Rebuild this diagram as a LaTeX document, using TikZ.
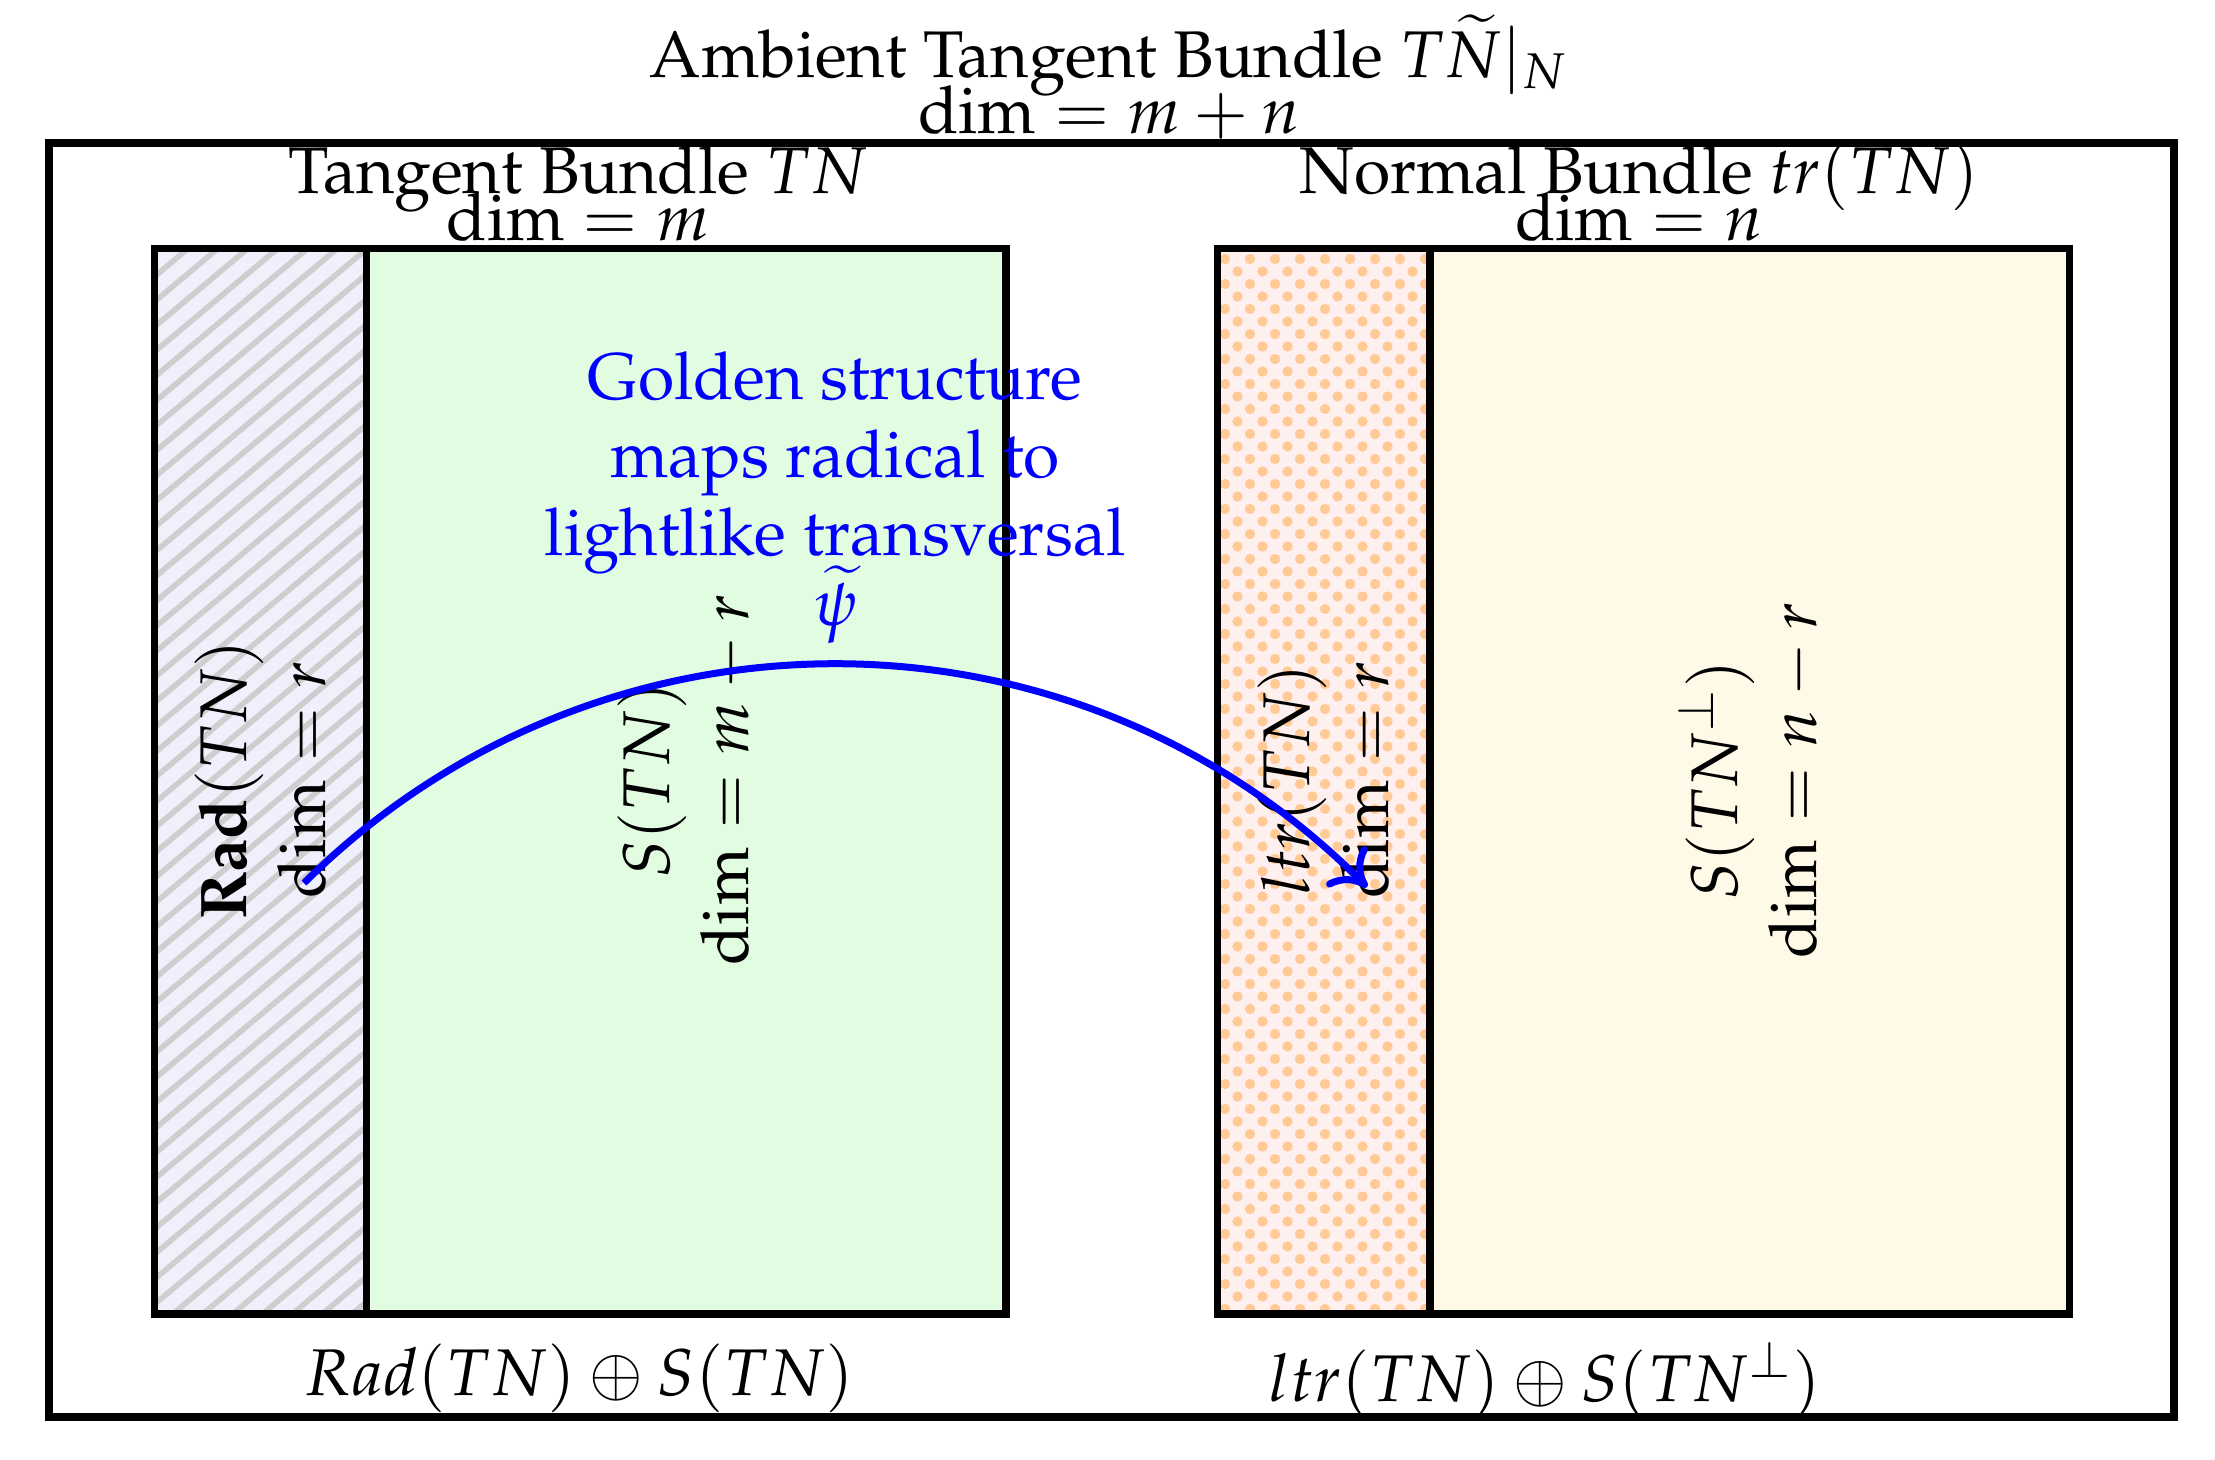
\documentclass[tikz,border=0pt]{standalone}
\usepackage[T1]{fontenc}
\usepackage{mathpazo}
\usetikzlibrary{patterns.meta,arrows.meta}
\definecolor{radfill}{RGB}{240,240,252}
\definecolor{sfill}{RGB}{226,252,226}
\definecolor{ltrfill}{RGB}{255,240,240}
\definecolor{spfill}{RGB}{255,250,232}
\definecolor{dotcol}{RGB}{255,202,150}
\definecolor{hatchcol}{RGB}{206,206,206}
\newcommand{\fsz}[2]{\fontsize{#1}{#2}\selectfont\lineskiplimit=-100pt\lineskip=0pt}
\begin{document}
\begin{tikzpicture}[x=0.25pt,y=-0.25pt,
  box/.style={line width=1.9pt},
  hdr/.style={align=center, inner sep=0pt, anchor=base, font=\fsz{16.5}{14}},
  sub/.style={align=center, inner sep=0pt, anchor=base, font=\fsz{16.5}{11.75}},
  vlbl/.style={align=center, inner sep=0pt, rotate=90, font=\fsz{16.5}{19.75}},
  note/.style={align=center, inner sep=0pt, anchor=base, text=blue, font=\fsz{16.5}{19.5}},
  sumlbl/.style={inner sep=0pt, anchor=base, font=\fsz{16.5}{20}},
  maparrow/.style={-{Computer Modern Rightarrow[length=8pt,width=14pt]}, blue, line width=1.75pt}]
\useasboundingbox (0,0) rectangle (2215,1459);
% fills
\fill[radfill] (154.5,248.5) rectangle (366.5,1314);
\fill[pattern={Lines[angle=40,distance=4.8pt,line width=1.4pt]}, pattern color=hatchcol] (154.5,248.5) rectangle (366.5,1314);
\fill[sfill] (366.5,248.5) rectangle (1006,1314);
\fill[ltrfill] (1217.5,248.5) rectangle (1430,1314);
\fill[pattern={Dots[distance=6.25pt,radius=1.3pt]}, pattern color=dotcol] (1217.5,248.5) rectangle (1430,1314);
\fill[pattern={Dots[distance=6.25pt,radius=1.3pt,xshift=3.125pt,yshift=3.125pt]}, pattern color=dotcol] (1217.5,248.5) rectangle (1430,1314);
\fill[spfill] (1430,248.5) rectangle (2069.5,1314);
% outlines
\draw[box] (49,143) rectangle (2174,1417);
\draw[box] (154.5,248.5) rectangle (1006,1314);
\draw[box] (366.5,248.5) -- (366.5,1314);
\draw[box] (1217.5,248.5) rectangle (2069.5,1314);
\draw[box] (1430,248.5) -- (1430,1314);
% headers (base = last line)
\node[hdr] (title) at (1109,133) {Ambient Tangent Bundle $T\widetilde{N}|_N$\\$\dim = m+n$};
\node[sub] (tb) at (578,240) {Tangent Bundle $TN$\\$\dim = m$};
\node[sub] (nb) at (1639,240) {Normal Bundle $tr(TN)$\\$\dim = n$};
% vertical labels
\node[vlbl] (rad) at (261,780) {\textbf{Rad}$(TN)$\\$\dim = r$};
\node[vlbl] (stn) at (686,780) {$S(TN)$\\$\dim = m-r$};
\node[vlbl] (ltr) at (1324,780) {$ltr(TN)$\\$\dim = r$};
\node[vlbl] (stnp) at (1750,780) {$S(TN^{\perp})$\\$\dim = n-r$};
% note
\node[note] (golden) at (835,555) {Golden structure\\maps radical to\\lightlike transversal};
% sums
\node[sumlbl] (lsum) at (579,1395) {$Rad(TN)\oplus S(TN)$};
\node[sumlbl] (rsum) at (1545,1401) {$ltr(TN)\oplus S(TN^{\perp})$};
% arrow
\coordinate (ps) at (304,883);
\coordinate (pe) at (1367,887);
\draw[maparrow] (ps) to[bend left=45] node[midway, above=1pt, font=\fsz{16.5}{19.5}, text=blue] (psi) {$\widetilde{\psi}$} (pe);
\end{tikzpicture}
\end{document}
